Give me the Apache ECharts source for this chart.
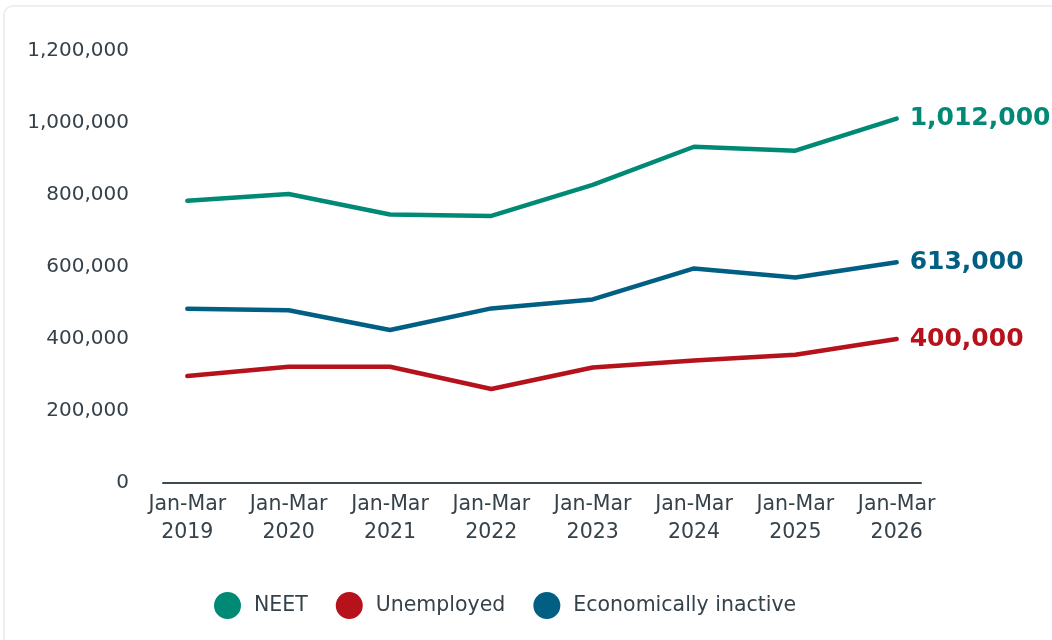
<!DOCTYPE html>
<html>
<head>
<meta charset="utf-8">
<script src="https://cdn.jsdelivr.net/npm/echarts@6/dist/echarts.min.js"></script>
<style>
  html, body { margin: 0; padding: 0; background: #fff; }
  #card { position: absolute; left: 3px; top: 5px; width: 1100px; height: 700px;
          border: 2px solid #efefef; border-radius: 10px; box-sizing: border-box; }
  #main { position: absolute; left: 0; top: 0; width: 1052px; height: 640px; }
</style>
</head>
<body>
<div id="card"></div>
<div id="main"></div>
<script>
// 数据
var categories = ['Jan-Mar\n2019', 'Jan-Mar\n2020', 'Jan-Mar\n2021', 'Jan-Mar\n2022',
                  'Jan-Mar\n2023', 'Jan-Mar\n2024', 'Jan-Mar\n2025', 'Jan-Mar\n2026'];
var neet = [784000, 803000, 746000, 742000, 828000, 934000, 923000, 1012000];
var unemployed = [297000, 323000, 323000, 261000, 321000, 340000, 356000, 400000];
var inactive = [484000, 480000, 425000, 485000, 510000, 596000, 571000, 613000];
var yTicks = [0, 200000, 400000, 600000, 800000, 1000000, 1200000];

var textColor = '#36424a';
var fontName = 'DejaVu Sans';

function fmt(v) {
    return Number(v).toLocaleString('en-US');
}

// 把数组转换成 [index, value]
function pairs(arr) {
    return arr.map(function (v, i) { return [i, v]; });
}

function makeSeries(name, data, color) {
    return {
        name: name,
        type: 'line',
        data: pairs(data),
        symbol: 'none',
        lineStyle: { color: color, width: 4.5, cap: 'round', join: 'round' },
        itemStyle: { color: color },
        endLabel: {
            show: true,
            distance: 13,
            formatter: function (p) { return fmt(p.value[1]); },
            color: color,
            fontFamily: fontName,
            fontWeight: 'bold',
            fontSize: 25
        },
        animation: false
    };
}

var myChart = echarts.init(document.getElementById('main'));

var option = {
    animation: false,
    grid: { left: 163, right: 131, top: 51, bottom: 157, containLabel: false },
    xAxis: {
        type: 'value',
        min: -0.24,
        max: 7.24,
        splitLine: { show: false },
        axisLine: { show: true, lineStyle: { color: '#3d494f', width: 2 } },
        axisTick: { show: false },
        axisLabel: {
            customValues: categories.map(function (c, i) { return i; }),
            formatter: function (v) { return categories[Math.round(v)]; },
            color: textColor,
            fontFamily: fontName,
            fontSize: 20.5,
            lineHeight: 28,
            margin: 8
        }
    },
    yAxis: {
        type: 'value',
        min: 0,
        max: 1200000,
        interval: 200000,
        splitLine: { show: false },
        axisLine: { show: false },
        axisTick: { show: false },
        axisLabel: {
            customValues: yTicks,
            formatter: function (v) { return fmt(v); },
            color: textColor,
            fontFamily: fontName,
            fontSize: 20,
            margin: 34
        }
    },
    legend: {
        left: 209,
        top: 587,
        icon: 'circle',
        itemWidth: 27,
        itemHeight: 27,
        itemGap: 28,
        textStyle: { color: textColor, fontFamily: fontName, fontSize: 20.5, padding: [0, 0, 0, 8] },
        data: ['NEET', 'Unemployed', 'Economically inactive']
    },
    series: [
        makeSeries('NEET', neet, '#008a76'),
        makeSeries('Unemployed', unemployed, '#b5121b'),
        makeSeries('Economically inactive', inactive, '#005f83')
    ]
};

myChart.setOption(option);
</script>
</body>
</html>
